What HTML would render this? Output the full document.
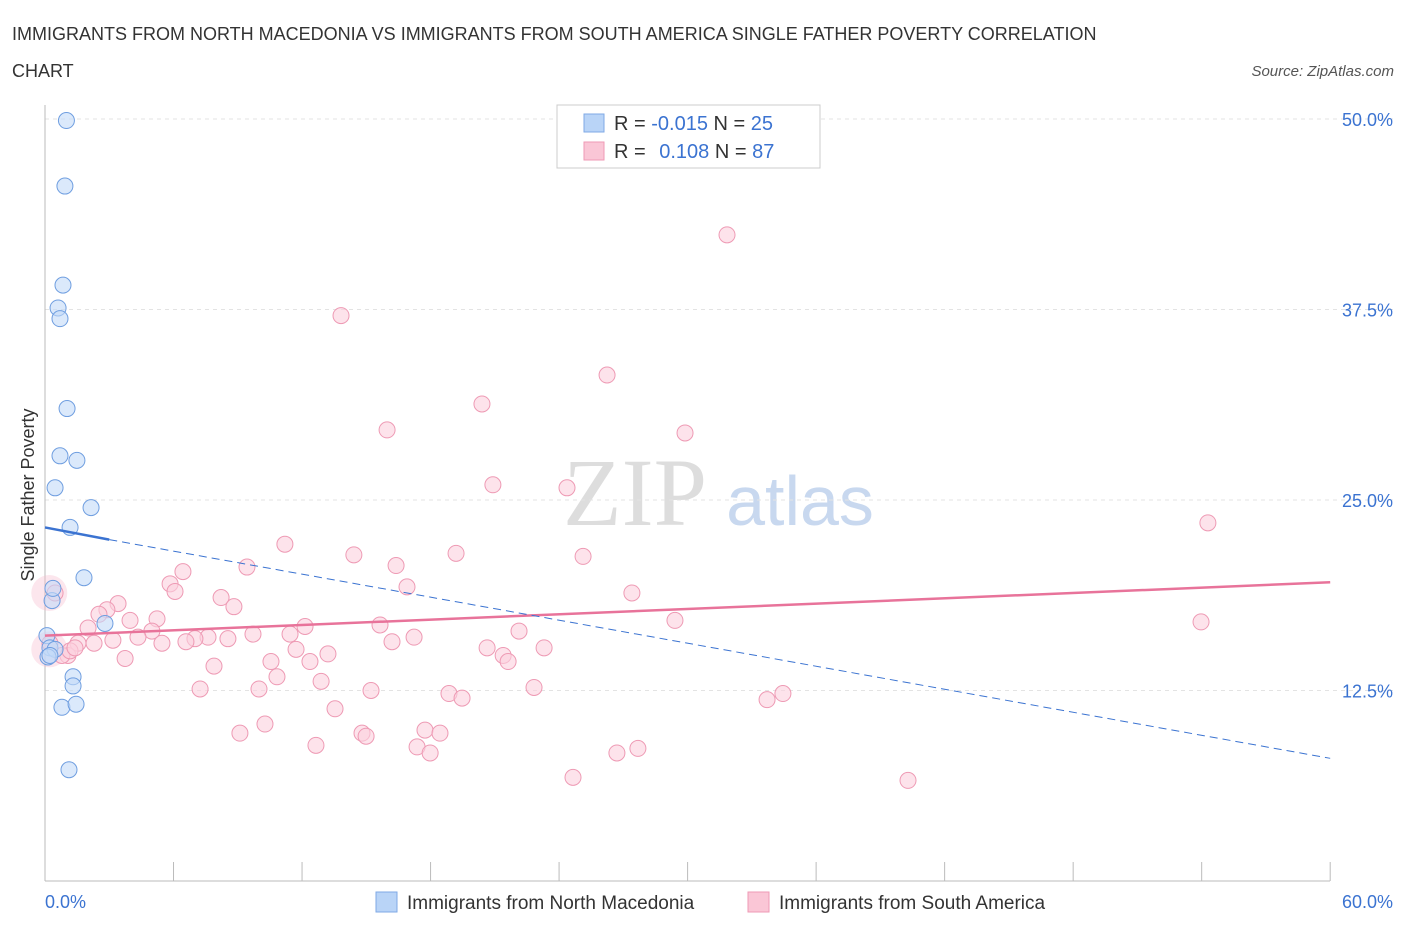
<!DOCTYPE html>
<html><head><meta charset="utf-8"><style>
body{margin:0;background:#fff;font-family:"Liberation Sans",sans-serif}
svg{display:block}
</style></head><body>
<svg width="1406" height="930" id="c">
<text x="12" y="40" font-size="18" fill="#333">IMMIGRANTS FROM NORTH MACEDONIA VS IMMIGRANTS FROM SOUTH AMERICA SINGLE FATHER POVERTY CORRELATION</text>
<text x="12" y="77" font-size="18" fill="#333">CHART</text>
<text x="1394" y="76" font-size="15" fill="#555" font-style="italic" text-anchor="end">Source: ZipAtlas.com</text>
<text x="635" y="525" font-size="96" fill="#ddd" font-family="Liberation Serif" text-anchor="middle">ZIP</text>
<text x="800" y="525" font-size="70" fill="#c8d8ef" text-anchor="middle">atlas</text>
<text transform="translate(34,495) rotate(-90)" font-size="18" fill="#333" text-anchor="middle">Single Father Poverty</text>
<g id="grid"></g><g id="pts"></g><g id="lines"></g>
<g>
<rect x="557" y="105" width="263" height="63" fill="#fff" stroke="#ccc"/>
<rect x="584" y="114" width="20" height="18" fill="#b9d4f7" stroke="#7fa9e6"/>
<rect x="584" y="142" width="20" height="18" fill="#fac6d6" stroke="#ef9ab5"/>
<text x="614" y="130" font-size="20" fill="#333">R = <tspan fill="#3b73d1">-0.015</tspan>   N = <tspan fill="#3b73d1">25</tspan></text>
<text x="614" y="158" font-size="20" fill="#333">R =  <tspan fill="#3b73d1" dx="8">0.108</tspan>   N = <tspan fill="#3b73d1">87</tspan></text>
</g>
<g>
<rect x="376" y="892" width="21" height="20" fill="#b9d4f7" stroke="#7fa9e6"/>
<text x="407" y="909" font-size="19" fill="#333">Immigrants from North Macedonia</text>
<rect x="748" y="892" width="21" height="20" fill="#fac6d6" stroke="#ef9ab5"/>
<text x="779" y="909" font-size="19" fill="#333">Immigrants from South America</text>
</g>
<text x="45" y="908" font-size="18" fill="#3b73d1">0.0%</text>
<text x="1393" y="908" font-size="18" fill="#3b73d1" text-anchor="end">60.0%</text>
</svg>
<script>
const yTicks=[12.5,25,37.5,50];
const yTickLabels=["12.5%","25.0%","37.5%","50.0%"];
const blueX=[1.0,0.93,0.84,0.61,0.7,1.03,0.7,1.49,0.47,2.15,1.17,1.82,0.33,0.37,2.8,0.09,0.23,0.47,0.14,1.31,1.31,0.79,1.45,1.12,0.23];
const blueY=[49.9,45.6,39.1,37.6,36.9,31.0,27.9,27.6,25.8,24.5,23.2,19.9,18.4,19.2,16.9,16.1,15.3,15.2,14.7,13.4,12.8,11.4,11.6,7.3,14.8];
const pinkX=[31.84,13.82,26.24,20.4,15.97,29.88,20.91,24.37,54.29,11.2,14.42,19.19,25.12,16.39,9.43,6.44,5.84,6.07,16.9,27.4,8.22,3.41,8.82,2.89,2.52,5.23,3.97,12.14,15.64,29.41,53.97,2.01,4.99,4.34,11.44,22.13,7.61,9.71,17.23,7.0,8.54,6.58,3.17,2.29,1.54,5.46,16.2,11.72,20.64,23.3,13.21,21.39,1.07,3.74,21.62,10.55,12.37,7.89,10.83,12.89,7.24,9.99,15.22,22.83,18.86,19.47,34.45,33.71,13.54,10.27,9.1,17.74,14.8,14.99,18.44,12.65,17.37,17.98,27.68,26.7,24.65,40.29,0.47,0.23,0.79,1.17,1.4];
const pinkY=[42.4,37.1,33.2,31.3,29.6,29.4,26.0,25.8,23.5,22.1,21.4,21.5,21.3,20.7,20.6,20.3,19.5,19.0,19.3,18.9,18.6,18.2,18.0,17.8,17.5,17.2,17.1,16.7,16.8,17.1,17.0,16.6,16.4,16.0,16.2,16.4,16.0,16.2,16.0,15.9,15.9,15.7,15.8,15.6,15.6,15.6,15.7,15.2,15.3,15.3,14.9,14.8,14.8,14.6,14.4,14.4,14.4,14.1,13.4,13.1,12.6,12.6,12.5,12.7,12.3,12.0,12.3,11.9,11.3,10.3,9.7,9.9,9.7,9.5,9.7,8.9,8.8,8.4,8.7,8.4,6.8,6.6,18.9,15.6,14.8,15.1,15.3];
const X=v=>45+v*21.42, Y=v=>881-v*15.24;
const NS="http://www.w3.org/2000/svg";
function mk(t,a,p){const e=document.createElementNS(NS,t);for(const k in a)e.setAttribute(k,a[k]);document.getElementById(p).appendChild(e);return e;}
yTicks.forEach((t,i)=>{
 let l=mk('line',{x1:45,x2:1394,y1:Y(t),y2:Y(t),stroke:'#e3e3e3','stroke-dasharray':'4 4'},'grid');
 
 
 let tx=mk('text',{x:1393,y:Y(t)+7,'font-size':18,fill:'#3b73d1','text-anchor':'end'},'grid');tx.textContent=yTickLabels[i];
 
 
});
let ax=mk('line',{x1:45,x2:1330,y1:881,y2:881,stroke:'#bbb'},'grid');


let ay=mk('line',{x1:45,x2:45,y1:105,y2:881,stroke:'#bbb'},'grid');


for(let i=0;i<=10;i++){let t=mk('line',{x1:X(i*6),x2:X(i*6),y1:862,y2:881,stroke:'#bbb'},'grid');
 
 }
[[0.2,18.9],[0.2,15.2]].forEach(p=>{let c=mk('circle',{cx:X(p[0]),cy:Y(p[1]),r:18,fill:'#f7b6ca',opacity:0.35},'pts');
 
 });
pinkX.forEach((x,i)=>{let c=mk('circle',{cx:X(x),cy:Y(pinkY[i]),r:8,fill:'#fbd0dd',stroke:'#ee9ab4','stroke-width':1,'fill-opacity':0.6},'pts');
 
 });
blueX.forEach((x,i)=>{let c=mk('circle',{cx:X(x),cy:Y(blueY[i]),r:8,fill:'#c3daf8',stroke:'#6f9ee0','stroke-width':1,'fill-opacity':0.6},'pts');
 
 });
let pl=mk('line',{x1:X(0),y1:Y(16.1),x2:X(60),y2:Y(19.6),stroke:'#e8739a','stroke-width':2.5},'lines');


let bd=mk('line',{x1:X(3),y1:Y(22.4),x2:X(60),y2:Y(8.05),stroke:'#3b73d1','stroke-width':1,'stroke-dasharray':'8 5'},'lines');


let bs=mk('line',{x1:X(0),y1:Y(23.2),x2:X(3),y2:Y(22.4),stroke:'#3b73d1','stroke-width':2.5},'lines');


</script>
</body></html>
